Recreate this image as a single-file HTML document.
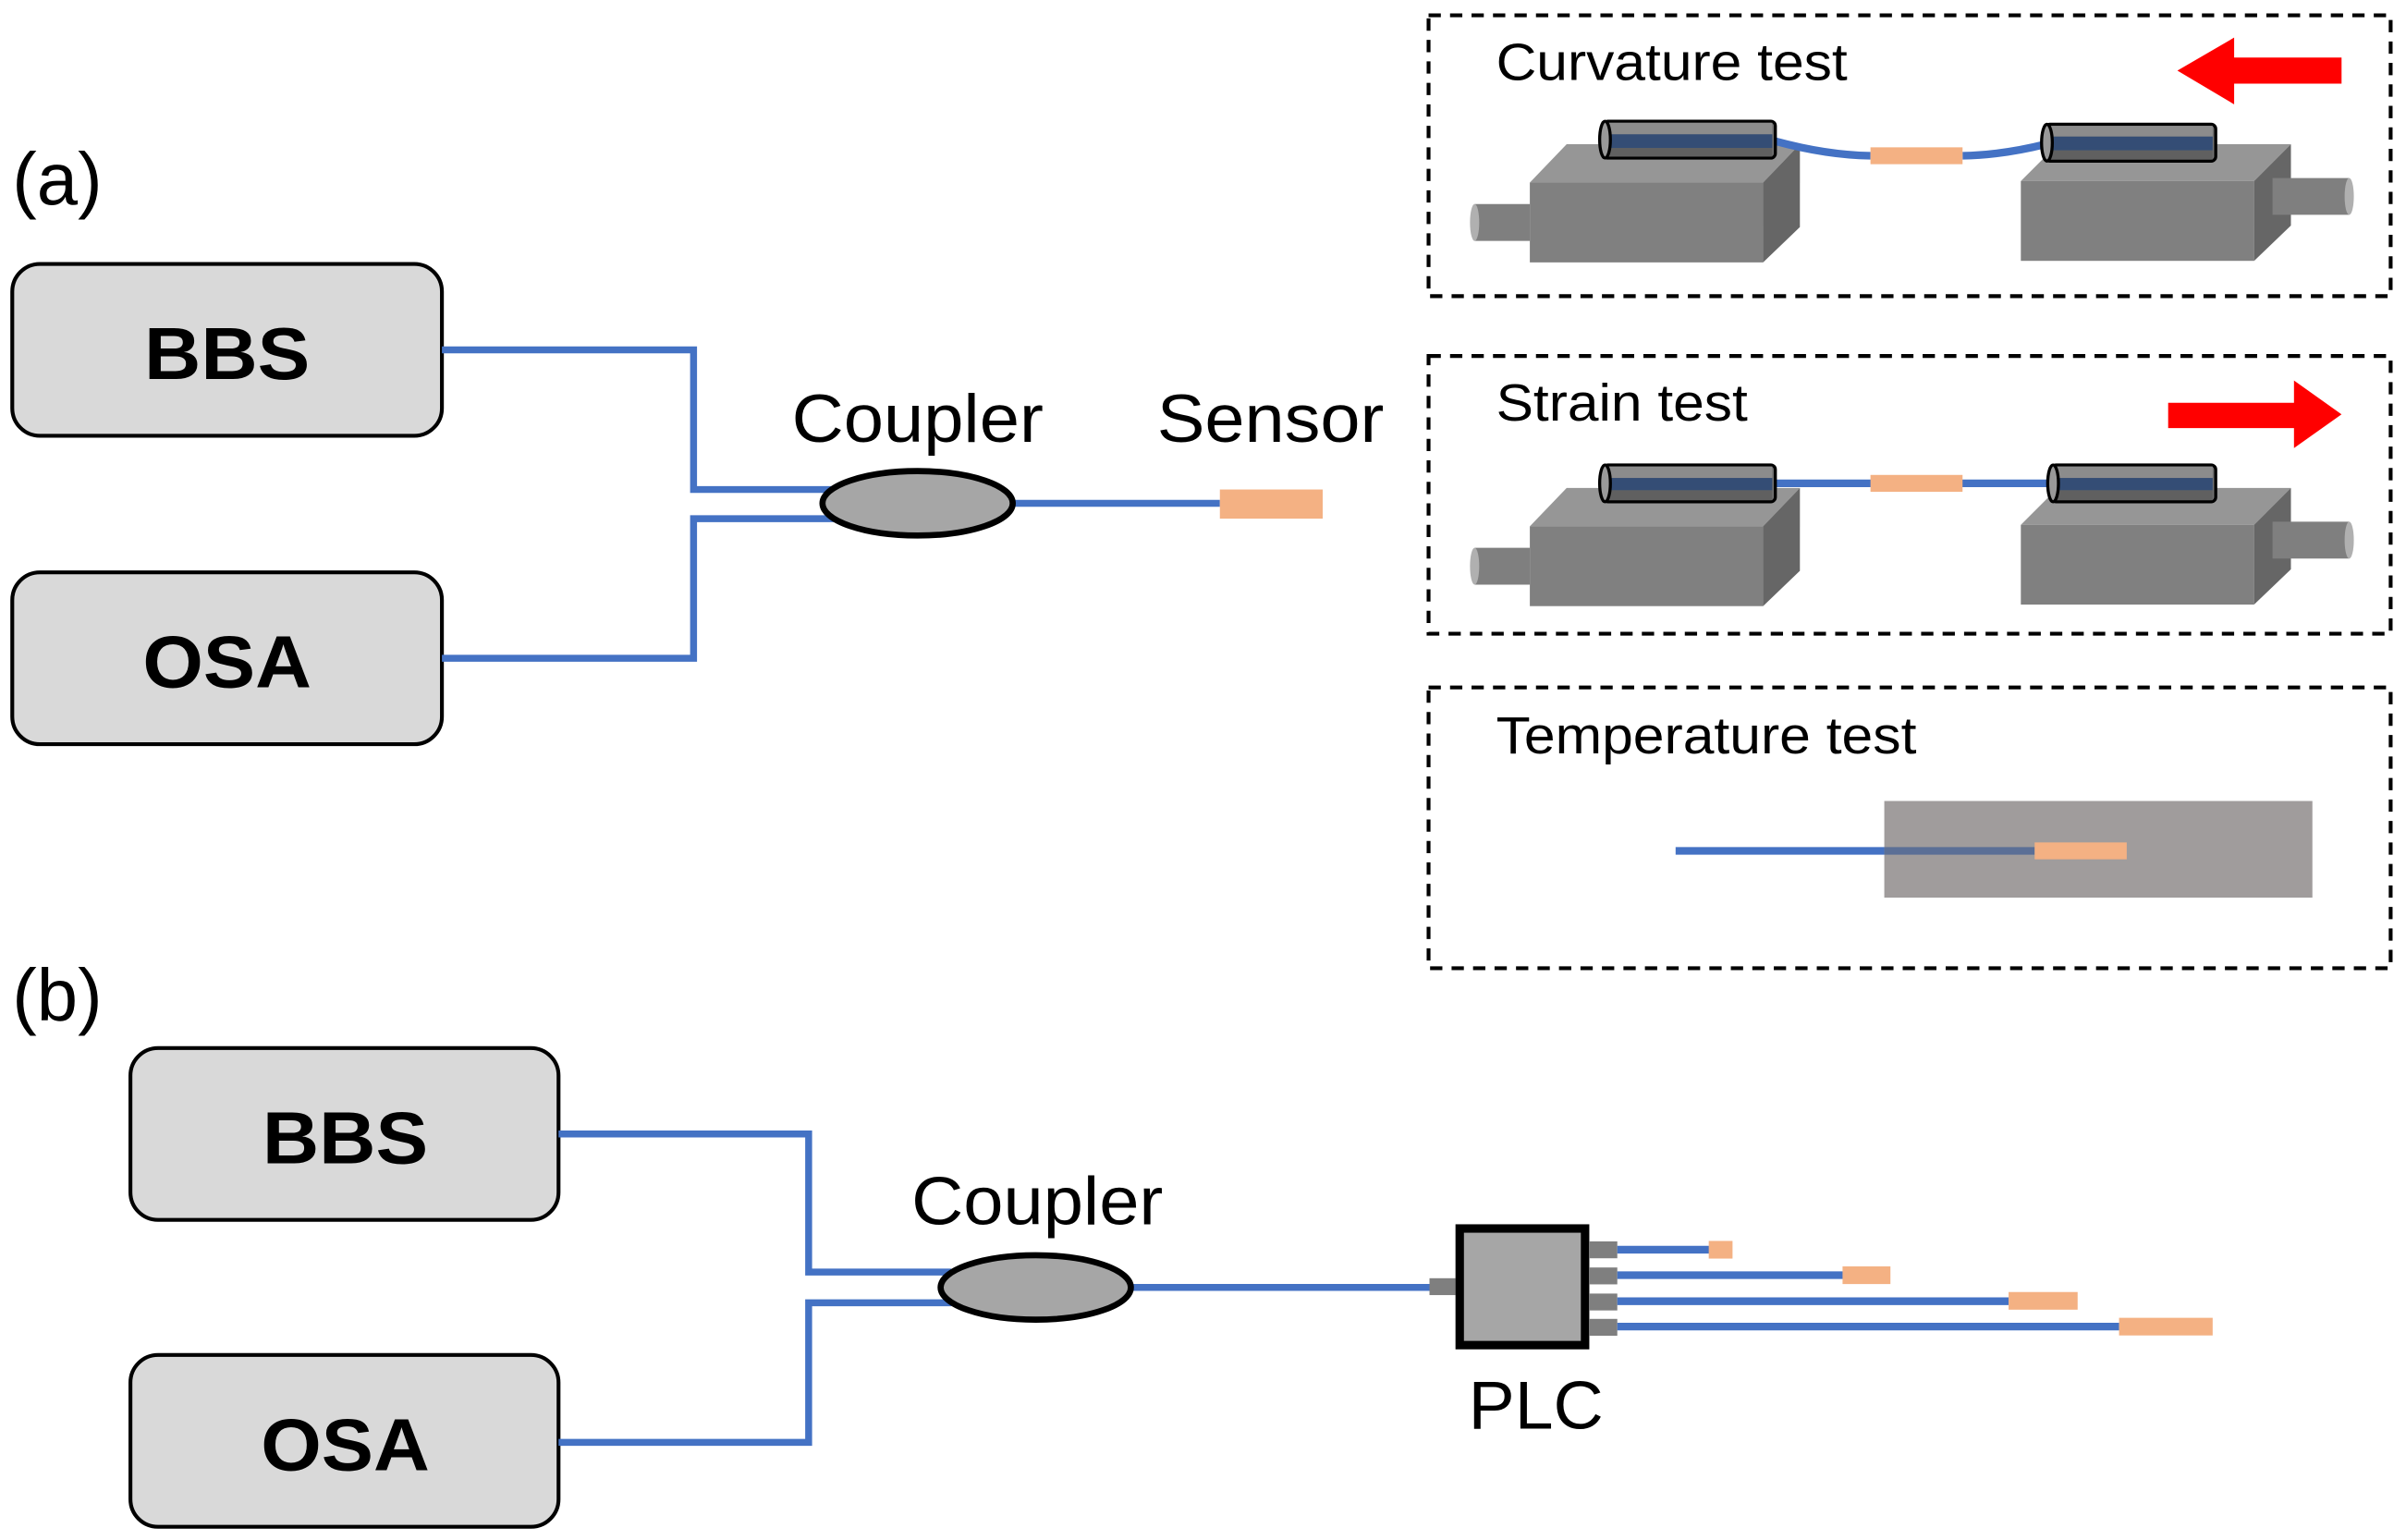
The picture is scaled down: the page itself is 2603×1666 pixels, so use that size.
<!DOCTYPE html>
<html><head><meta charset="utf-8"><style>html,body{margin:0;padding:0;background:#fff}svg{display:block}</style></head>
<body>
<svg width="2603" height="1666" viewBox="0 0 1568 1003.6" preserveAspectRatio="none" xmlns="http://www.w3.org/2000/svg" font-family="Liberation Sans, Arial, sans-serif">
<defs>
<g id="stageL">
  <path d="M961,133 h36 v24 h-36 z" fill="#7f7f7f"/>
  <ellipse cx="961" cy="145" rx="3" ry="12" fill="#b0b0b0"/>
  <path d="M997,119 L1021,94 L1173,94 L1149,119 Z" fill="#969696"/>
  <path d="M1149,119 L1173,94 L1173,148 L1149,171 Z" fill="#666"/>
  <rect x="997" y="119" width="152" height="52" fill="#808080"/>
</g>
<g id="stageR">
  <path d="M1317,118 L1341,94 L1493,94 L1469,118 Z" fill="#969696"/>
  <path d="M1469,118 L1493,94 L1493,147 L1469,170 Z" fill="#666"/>
  <rect x="1317" y="118" width="152" height="52" fill="#808080"/>
  <path d="M1481,116 h50 v24 h-50 z" fill="#7f7f7f"/>
  <ellipse cx="1531" cy="128" rx="3" ry="12" fill="#b0b0b0"/>
</g>
</defs>
<!-- Curvature box -->
<rect x="931" y="10" width="627" height="183" fill="none" stroke="#000" stroke-width="2.5" stroke-dasharray="8,6"/>
<text x="975" y="52" font-size="34" textLength="229" lengthAdjust="spacingAndGlyphs">Curvature test</text>
<path d="M1526,37.5 H1456 V24.5 L1419,46 L1456,68 V54.5 H1526 Z" fill="#ff0000"/>
<use href="#stageL"/><use href="#stageR"/>
<path d="M1157,92 Q1190,101 1219,101.5 M1279,101.5 Q1305,101 1333,94" stroke="#4472c4" stroke-width="5" fill="none"/>
<rect x="1219" y="96" width="60" height="11" fill="#f4b183"/>
<g stroke="#000" stroke-width="2">
<rect x="1045" y="79" width="112" height="24" rx="3" fill="#707070"/>
<rect x="1333" y="81" width="111" height="24" rx="3" fill="#707070"/>
</g>
<rect x="1047" y="80" width="108" height="8" fill="#8c8c8c"/><rect x="1047" y="87.5" width="108" height="9" fill="#344d75"/><rect x="1047" y="96.5" width="108" height="5.5" fill="#606060"/>
<rect x="1335" y="82" width="107" height="7" fill="#8c8c8c"/><rect x="1335" y="89" width="107" height="9" fill="#344d75"/><rect x="1335" y="98" width="107" height="6" fill="#606060"/>
<ellipse cx="1046" cy="91" rx="3.5" ry="12" fill="#999" stroke="#000" stroke-width="2"/>
<ellipse cx="1334" cy="93" rx="3.5" ry="12" fill="#999" stroke="#000" stroke-width="2"/>

<!-- Strain box -->
<rect x="931" y="232" width="627" height="181" fill="none" stroke="#000" stroke-width="2.5" stroke-dasharray="8,6"/>
<text x="975" y="274" font-size="34" textLength="164" lengthAdjust="spacingAndGlyphs">Strain test</text>
<path d="M1413,262.5 H1495 V248 L1526,270 L1495,292 V279 H1413 Z" fill="#ff0000"/>
<g transform="translate(0,224)"><use href="#stageL"/><use href="#stageR"/></g>
<line x1="1155" y1="315" x2="1338" y2="315" stroke="#4472c4" stroke-width="5"/>
<rect x="1219" y="309.5" width="60" height="11" fill="#f4b183"/>
<g stroke="#000" stroke-width="2">
<rect x="1045" y="303" width="112" height="24" rx="3" fill="#707070"/>
<rect x="1337" y="303" width="107" height="24" rx="3" fill="#707070"/>
</g>
<rect x="1047" y="304" width="108" height="7.5" fill="#8c8c8c"/><rect x="1047" y="311.5" width="108" height="8" fill="#344d75"/><rect x="1047" y="319.5" width="108" height="6.5" fill="#606060"/>
<rect x="1339" y="304" width="103" height="7.5" fill="#8c8c8c"/><rect x="1339" y="311.5" width="103" height="8" fill="#344d75"/><rect x="1339" y="319.5" width="103" height="6.5" fill="#606060"/>
<ellipse cx="1046" cy="315" rx="3.5" ry="12" fill="#999" stroke="#000" stroke-width="2"/>
<ellipse cx="1338" cy="315" rx="3.5" ry="12" fill="#999" stroke="#000" stroke-width="2"/>

<!-- Temperature box -->
<rect x="931" y="448" width="627" height="183" fill="none" stroke="#000" stroke-width="2.5" stroke-dasharray="8,6"/>
<text x="975" y="491" font-size="34" textLength="274" lengthAdjust="spacingAndGlyphs">Temperature test</text>
<rect x="1228" y="522" width="279" height="63" fill="#a09c9c"/>
<line x1="1092" y1="554.5" x2="1228" y2="554.5" stroke="#4472c4" stroke-width="5"/>
<line x1="1228" y1="554.5" x2="1326" y2="554.5" stroke="#5b6f96" stroke-width="5"/>
<rect x="1326" y="549" width="60" height="11" fill="#f4b183"/>

<!-- (a) -->
<text x="8" y="133" font-size="48">(a)</text>
<rect x="8" y="172" width="280" height="112" rx="18" fill="#d9d9d9" stroke="#000" stroke-width="2.5"/>
<rect x="8" y="373" width="280" height="112" rx="18" fill="#d9d9d9" stroke="#000" stroke-width="2.5"/>
<text x="148" y="247" font-size="48" font-weight="bold" text-anchor="middle" textLength="108" lengthAdjust="spacingAndGlyphs">BBS</text>
<text x="148" y="448" font-size="48" font-weight="bold" text-anchor="middle" textLength="110" lengthAdjust="spacingAndGlyphs">OSA</text>
<path d="M288,228 H452 V319 H545 M288,429 H452 V338 H545 M655,328 H795" fill="none" stroke="#4472c4" stroke-width="4.5"/>
<ellipse cx="598" cy="328" rx="62" ry="21" fill="#a6a6a6" stroke="#000" stroke-width="4"/>
<rect x="795" y="319" width="67" height="19" fill="#f4b183"/>
<text x="598" y="288" font-size="44" text-anchor="middle" textLength="164" lengthAdjust="spacingAndGlyphs">Coupler</text>
<text x="828" y="288" font-size="44" text-anchor="middle" textLength="148" lengthAdjust="spacingAndGlyphs">Sensor</text>

<!-- (b) -->
<text x="8" y="665" font-size="48">(b)</text>
<rect x="85" y="683" width="279" height="112" rx="18" fill="#d9d9d9" stroke="#000" stroke-width="2.5"/>
<rect x="85" y="883" width="279" height="112" rx="18" fill="#d9d9d9" stroke="#000" stroke-width="2.5"/>
<text x="225" y="758" font-size="48" font-weight="bold" text-anchor="middle" textLength="108" lengthAdjust="spacingAndGlyphs">BBS</text>
<text x="225" y="958" font-size="48" font-weight="bold" text-anchor="middle" textLength="110" lengthAdjust="spacingAndGlyphs">OSA</text>
<path d="M364,739 H527 V829 H620 M364,940 H527 V849 H620 M732,839 H932" fill="none" stroke="#4472c4" stroke-width="4.5"/>
<ellipse cx="675" cy="839" rx="62" ry="21" fill="#a6a6a6" stroke="#000" stroke-width="4"/>
<text x="676" y="798" font-size="44" text-anchor="middle" textLength="164" lengthAdjust="spacingAndGlyphs">Coupler</text>
<rect x="931.6" y="833" width="17" height="11" fill="#7f7f7f"/>
<rect x="951.3" y="800.6" width="81.7" height="76" fill="#a6a6a6" stroke="#000" stroke-width="5.5"/>
<g fill="#7f7f7f">
<rect x="1036" y="809" width="18" height="11"/><rect x="1036" y="826" width="18" height="11"/>
<rect x="1036" y="843" width="18" height="11"/><rect x="1036" y="859.5" width="18" height="11"/>
</g>
<g stroke="#4472c4" stroke-width="5">
<line x1="1054" y1="814.4" x2="1114" y2="814.4"/><line x1="1054" y1="831" x2="1201" y2="831"/>
<line x1="1054" y1="848" x2="1309" y2="848"/><line x1="1054" y1="864.5" x2="1381" y2="864.5"/>
</g>
<g fill="#f4b183">
<rect x="1113.6" y="808.7" width="15.5" height="11.5"/><rect x="1200.8" y="825.3" width="31.2" height="11.5"/>
<rect x="1309" y="842" width="45" height="11.5"/><rect x="1381" y="858.8" width="61" height="11.5"/>
</g>
<text x="1001" y="931" font-size="44" text-anchor="middle" textLength="88" lengthAdjust="spacingAndGlyphs">PLC</text>
</svg>
</body></html>
